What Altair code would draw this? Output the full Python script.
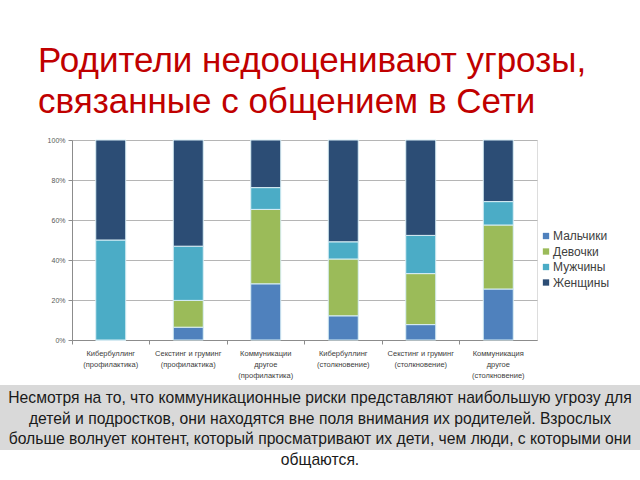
import altair as alt
import pandas as pd

categories = [
    "Кибербуллинг|(профилактика)",
    "Секстинг и груминг|(профилактика)",
    "Коммуникации|другое|(профилактика)",
    "Кибербуллинг|(столкновение)",
    "Секстинг и груминг|(столкновение)",
    "Коммуникация|другое|(столкновение)",
]
series = ["Мальчики", "Девочки", "Мужчины", "Женщины"]
boys = [0, 6.4, 28.1, 12.1, 7.7, 25.5]
girls = [0, 13.4, 37.2, 28.4, 25.5, 32.0]
men = [50, 27.1, 10.9, 8.6, 19.1, 11.7]
women = [50, 53.1, 23.8, 50.9, 47.7, 30.8]
colors = ["#4F81BD", "#9BBB59", "#4BACC6", "#2C4D75"]
y_ticks = [0, 20, 40, 60, 80, 100]

title_lines = ["Родители недооценивают угрозы,", "связанные с общением в Сети"]
note_lines = [
    "Несмотря на то, что коммуникационные риски представляют наибольшую угрозу для",
    "детей и подростков, они находятся вне поля внимания их родителей. Взрослых",
    "больше волнует контент, который просматривают их дети, чем люди, с которыми они",
    "общаются.",
]

rows = []
for i, cat in enumerate(categories):
    for j, (name, vals) in enumerate(zip(series, [boys, girls, men, women])):
        rows.append({"cat": cat, "series": name, "idx": j, "value": vals[i]})
df = pd.DataFrame(rows)

bars = alt.Chart(df).mark_bar(size=30, stroke="#d8eef5", strokeWidth=1).encode(
    x=alt.X("cat:N", sort=categories, title=None,
            scale=alt.Scale(paddingInner=0, paddingOuter=0),
            axis=alt.Axis(labelAngle=0, labelExpr="split(datum.label, '|')",
                          labelFontSize=7.5, labelColor="#404040", labelFont="Liberation Sans",
                          labelLineHeight=11, labelPadding=5, bandPosition=0,
                          tickSize=4, tickColor="#8c8c8c", domainColor="#8c8c8c",
                          labelBound=False, labelOverlap=False)),
    y=alt.Y("value:Q", stack="zero", title=None,
            scale=alt.Scale(domain=[0, 100], nice=False),
            axis=alt.Axis(values=y_ticks, labelExpr="datum.value + '%'",
                          labelFontSize=7, labelColor="#595959", labelFont="Liberation Sans",
                          gridColor="#b5b5b5", gridWidth=1.2, domainColor="#8c8c8c",
                          tickColor="#8c8c8c", tickSize=4, labelPadding=3)),
    color=alt.Color("series:N", sort=series,
                    scale=alt.Scale(domain=series, range=colors),
                    legend=alt.Legend(title=None, orient="none", legendX=468, legendY=90,
                                      symbolType="square", symbolSize=40,
                                      symbolStrokeWidth=0, labelFontSize=12,
                                      labelColor="#404040", labelFont="Liberation Sans",
                                      rowPadding=3.5, labelOffset=1)),
    order=alt.Order("idx:Q", sort="ascending"),
)

title = alt.Chart().mark_text(
    text=title_lines, align="left", baseline="alphabetic", fontSize=35,
    font="Liberation Sans", color="#C00000", lineHeight=41,
).encode(x=alt.value(-34), y=alt.value(-68))

band = alt.Chart().mark_rect(color="#d9d9d9").encode(
    x=alt.value(-72), x2=alt.value(568), y=alt.value(245), y2=alt.value(310)
)

note = alt.Chart().mark_text(
    text=note_lines, align="center", baseline="alphabetic", fontSize=15.7,
    font="Liberation Sans", color="#1a1a1a", lineHeight=20.5,
).encode(x=alt.value(248), y=alt.value(263))

chart = alt.layer(band, bars, title, note).properties(
    width=465, height=200,
    autosize=alt.AutoSizeParams(type="none"),
    padding={"left": 72, "top": 140, "right": 103, "bottom": 140},
).configure_view(stroke=None).configure(background="white")

chart.save("out.html", embed_options={"renderer": "svg", "actions": False})
